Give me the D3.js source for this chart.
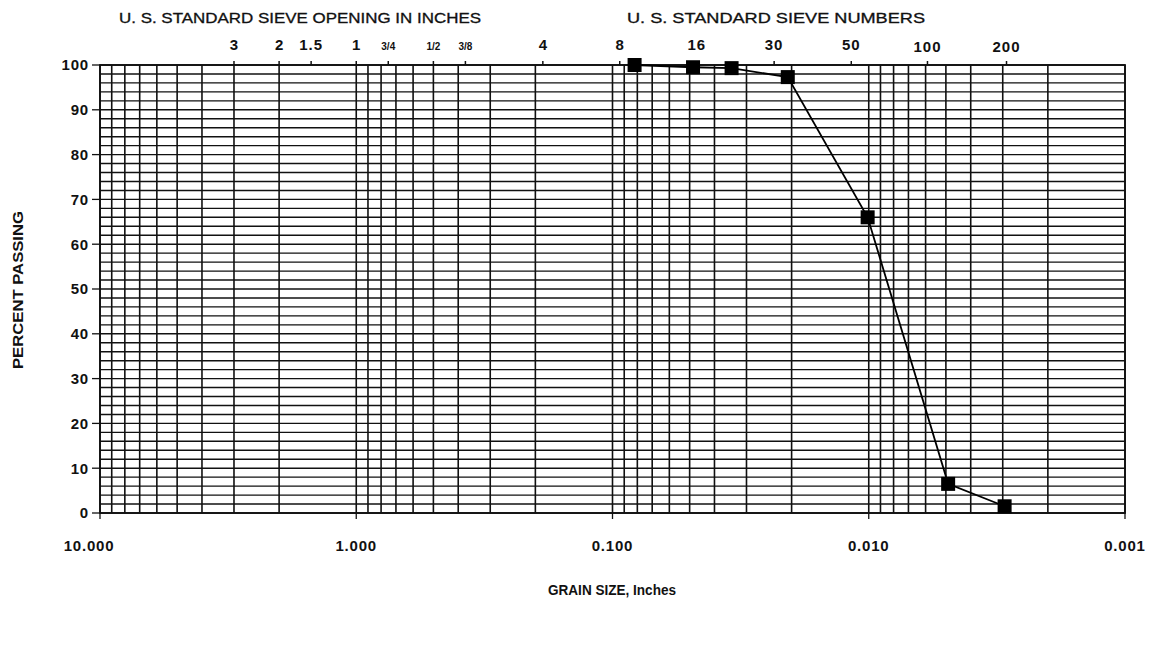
<!DOCTYPE html>
<html>
<head>
<meta charset="utf-8">
<script src="https://cdn.jsdelivr.net/npm/d3@7/dist/d3.min.js"></script>
<style>
  html, body { margin: 0; padding: 0; background: #fff; }
  svg { display: block; }
  text { font-family: "Liberation Sans", Arial, Helvetica, sans-serif; fill: #111; }
</style>
</head>
<body>
<svg id="chart" width="1157" height="656"></svg>
<script>
// ---- data ----
const grainSize = [0.082, 0.0485, 0.0343, 0.0207, 0.0101, 0.0049, 0.00295];
const percentPassing = [100, 99.5, 99.3, 97.3, 66, 6.5, 1.5];

const sieveOpeningSizes = [3, 2, 1.5, 1, 0.75, 0.5, 0.375];
const sieveOpeningLabels = ["3", "2", "1.5", "1", "3/4", "1/2", "3/8"];
const sieveNumberSizes = [0.187, 0.0937, 0.0469, 0.0234, 0.0117, 0.0059, 0.0029];
const sieveNumberLabels = ["4", "8", "16", "30", "50", "100", "200"];

const xTickValues = [10, 1, 0.1, 0.01, 0.001];
const xTickLabels = ["10.000", "1.000", "0.100", "0.010", "0.001"];
const yTickValues = [0, 10, 20, 30, 40, 50, 60, 70, 80, 90, 100];

// ---- layout ----
const pL = 100, pR = 1125, pT = 65, pB = 513;
const svg = d3.select("#chart");

const x = d3.scaleLog().domain([10, 0.001]).range([pL, pR]);
const y = d3.scaleLinear().domain([0, 100]).range([pB, pT]);

// grid values
const vGrid = [];
for (let d = -3; d <= 0; d++) {
  for (let k = 1; k <= 9; k++) vGrid.push(k * Math.pow(10, d));
}
vGrid.push(10);
const hGrid = d3.range(0, 101, 2);

const g = svg.append("g");

g.selectAll("line.h").data(hGrid).join("line")
  .attr("class", "h")
  .attr("x1", pL).attr("x2", pR)
  .attr("y1", d => y(d)).attr("y2", d => y(d))
  .attr("stroke", "#111").attr("stroke-width", 1.4);

g.selectAll("line.v").data(vGrid).join("line")
  .attr("class", "v")
  .attr("x1", d => x(d)).attr("x2", d => x(d))
  .attr("y1", pT).attr("y2", pB)
  .attr("stroke", "#111").attr("stroke-width", 1.6);

// border
g.append("rect").attr("x", pL).attr("y", pT)
  .attr("width", pR - pL).attr("height", pB - pT)
  .attr("fill", "none").attr("stroke", "#111").attr("stroke-width", 1.8);

// y axis ticks and labels
g.selectAll("line.yt").data(yTickValues).join("line")
  .attr("class", "yt")
  .attr("x1", pL - 8).attr("x2", pL)
  .attr("y1", d => y(d)).attr("y2", d => y(d))
  .attr("stroke", "#111").attr("stroke-width", 1.3);
g.selectAll("text.yl").data(yTickValues).join("text")
  .attr("class", "yl")
  .attr("x", pL - 11).attr("y", d => y(d))
  .attr("dy", "0.36em")
  .attr("text-anchor", "end")
  .attr("font-size", 15).attr("font-weight", "bold")
  .attr("letter-spacing", 0.8)
  .text(d => d);

// x axis ticks and labels
g.selectAll("line.xt").data(xTickValues).join("line")
  .attr("class", "xt")
  .attr("x1", d => x(d)).attr("x2", d => x(d))
  .attr("y1", pB).attr("y2", pB + 6)
  .attr("stroke", "#111").attr("stroke-width", 1.3);
g.selectAll("text.xl").data(xTickValues).join("text")
  .attr("class", "xl")
  .attr("x", (d, i) => x(d) - (i === 0 ? 11 : 0)).attr("y", pB + 38)
  .attr("text-anchor", "middle")
  .attr("font-size", 15).attr("font-weight", "bold")
  .attr("letter-spacing", 0.8)
  .text((d, i) => xTickLabels[i]);

// top sieve ticks
const topSizes = sieveOpeningSizes.concat(sieveNumberSizes);
const topLabels = sieveOpeningLabels.concat(sieveNumberLabels);
g.selectAll("line.tt").data(topSizes).join("line")
  .attr("class", "tt")
  .attr("x1", d => x(d)).attr("x2", d => x(d))
  .attr("y1", pT - 4).attr("y2", pT)
  .attr("stroke", "#111").attr("stroke-width", 1.5);
g.selectAll("text.tl").data(topSizes).join("text")
  .attr("class", "tl")
  .attr("x", d => x(d)).attr("y", (d, i) => pT - (topLabels[i] === "100" || topLabels[i] === "200" ? 13 : 15))
  .attr("text-anchor", "middle")
  .attr("font-size", (d, i) => topLabels[i].includes("/") ? 10 : 15)
  .attr("font-weight", "bold")
  .attr("letter-spacing", (d, i) => topLabels[i].length > 1 && !topLabels[i].includes("/") ? 1 : 0)
  .text((d, i) => topLabels[i]);

// header titles
svg.append("text").attr("x", 300).attr("y", 23)
  .attr("text-anchor", "middle").attr("font-size", 14)
  .attr("textLength", 362).attr("lengthAdjust", "spacingAndGlyphs")
  .attr("stroke", "#111").attr("stroke-width", 0.3)
  .text("U. S. STANDARD SIEVE OPENING IN INCHES");
svg.append("text").attr("x", 776).attr("y", 23)
  .attr("text-anchor", "middle").attr("font-size", 14)
  .attr("textLength", 298).attr("lengthAdjust", "spacingAndGlyphs")
  .attr("stroke", "#111").attr("stroke-width", 0.3)
  .text("U. S. STANDARD SIEVE NUMBERS");

// axis titles
svg.append("text").attr("x", 612).attr("y", 595)
  .attr("text-anchor", "middle").attr("font-size", 14).attr("font-weight", "bold")
  .attr("textLength", 128).attr("lengthAdjust", "spacingAndGlyphs")
  .text("GRAIN SIZE, Inches");
svg.append("text")
  .attr("transform", "translate(23,290) rotate(-90)")
  .attr("text-anchor", "middle").attr("font-size", 14).attr("font-weight", "bold")
  .attr("textLength", 158).attr("lengthAdjust", "spacingAndGlyphs")
  .text("PERCENT PASSING");

// data line
const pts = grainSize.map((d, i) => [d, percentPassing[i]]);
const line = d3.line().x(d => x(d[0])).y(d => y(d[1]));
g.append("path").datum(pts)
  .attr("d", line).attr("fill", "none")
  .attr("stroke", "#000").attr("stroke-width", 1.8);

const s = 14;
g.selectAll("rect.pt").data(pts).join("rect")
  .attr("class", "pt")
  .attr("x", d => x(d[0]) - s / 2).attr("y", d => y(d[1]) - s / 2)
  .attr("width", s).attr("height", s)
  .attr("fill", "#000");
</script>
</body>
</html>
